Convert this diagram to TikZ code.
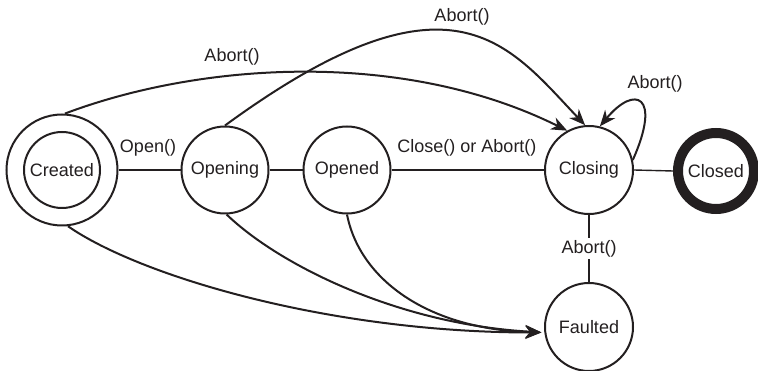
\documentclass[tikz,border=0pt]{standalone}
\usepackage{fontspec}
\setmainfont{Liberation Sans}
\usetikzlibrary{arrows.meta}
\definecolor{ink}{HTML}{231F20}
\begin{document}
\begin{tikzpicture}[x=1pt,y=-1pt,
  font=\fontsize{18pt}{20pt}\selectfont,
  state/.style={circle,draw=ink,line width=2pt,inner sep=0pt,minimum size=87pt,text=ink},
  link/.style={draw=ink,line width=1.8pt},
  thinlink/.style={draw=ink,line width=1.4pt},
  arc/.style={draw=ink,line width=2pt,-{Stealth[length=16pt,width=13pt,inset=5pt]}},
  lbl/.style={text=ink,inner sep=1pt}]
\useasboundingbox (0,0) rectangle (758,371);

% states
\node[state,minimum size=111pt] (createdring) at (62,170) {};
\node[state,minimum size=76pt] (created) at (62,170) {Created};
\node[state] (opening) at (225,170) {Opening};
\node[state] (opened) at (347,170) {Opened};
\node[state,minimum size=88pt] (closing) at (589,170) {Closing};
\node[state,minimum size=76pt,line width=10pt] (closed) at (716,171) {Closed};
\node[state,minimum size=88pt] (faulted) at (589,327) {Faulted};

% straight transitions
\draw[link] (createdring.east) -- (opening.west);
\node[lbl] (lopen) at (148,148) {Open()};
\draw[link] (opening.east) -- (opened.west);
\draw[link] (opened.east) -- (closing.west);
\node[lbl] (lclose) at (467,148) {Close() or Abort()};
\draw[thinlink] (closing.east) -- (closed.west);
\draw[thinlink] (closing.south) -- node[lbl,fill=white,inner sep=2pt] (lfault) {Abort()} (faulted.north);

% abort transitions into Closing
\draw[arc] (createdring.87) .. controls +(135,-51) and +(-165,-82) .. (closing.119);
\node[lbl] (labort1) at (232,57) {Abort()};
\draw[arc] (opening.north) .. controls +(227,-166) and +(-77,-81) .. (closing.95);
\node[lbl] (labort2) at (462,17) {Abort()};
\draw[arc] (closing.13) .. controls +(29,-65) and +(35,-42) .. (closing.76);
\node[lbl] (labort3) at (655,84) {Abort()};

% transitions into Faulted
\draw[arc,shorten >=3pt] (createdring.-84) .. controls +(72,50) and +(-215,0) .. (faulted.187);
\draw[arc,shorten >=3pt] (opening.-88) .. controls +(53,51) and +(-145,-8) .. (faulted.187);
\draw[arc,shorten >=3pt] (opened.south) .. controls +(13,66) and +(-115,-3) .. (faulted.187);
\end{tikzpicture}
\end{document}
